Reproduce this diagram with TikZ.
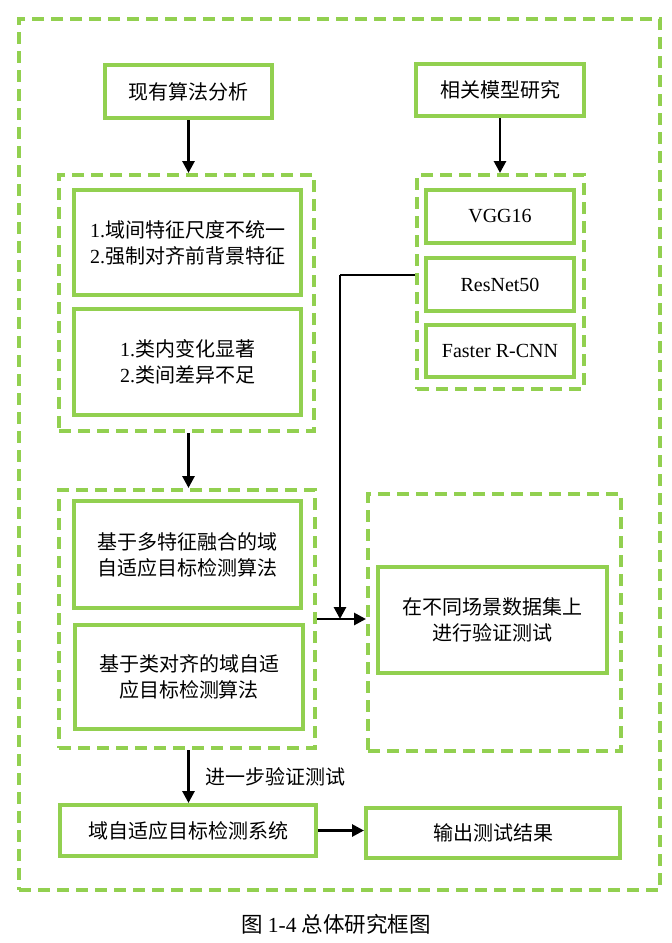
\documentclass[tikz,border=0pt]{standalone}
\usepackage{fontspec}
\setmainfont{Liberation Serif}
\newfontfamily\zhfont{Noto Sans CJK SC}
\newcommand{\zh}[1]{{\zhfont #1}}
\usetikzlibrary{arrows.meta}
\definecolor{leaf}{RGB}{146,208,80}
\begin{document}
\begin{tikzpicture}[x=1pt,y=-1pt,
  font=\fontsize{20}{26}\selectfont,
  solidbox/.style={draw=leaf,line width=4pt,fill=white,inner sep=0pt,align=center},
  dashbox/.style={draw=leaf,line width=4pt,dash pattern=on 12pt off 7pt,inner sep=0pt},
  flow/.style={draw=black,line width=2.8pt,-{Triangle[length=12pt,width=12pt]}},
  link/.style={draw=black,line width=2.8pt}]
\useasboundingbox (0,0) rectangle (672,943);

% outer frame
\node[dashbox,minimum width=641pt,minimum height=871pt] (frame) at (339.5,454.5) {};

% top row
\node[solidbox,minimum width=167pt,minimum height=53pt] (algo) at (188.5,91.5) {\zh{现有算法分析}};
\node[solidbox,minimum width=168pt,minimum height=52pt] (model) at (500,90) {\zh{相关模型研究}};

% problem group
\node[dashbox,minimum width=255pt,minimum height=256pt] (g1) at (186.5,303) {};
\node[solidbox,minimum width=227pt,minimum height=105pt] (a1) at (187.5,242.5)
  {1.\zh{域间特征尺度不统一}\\2.\zh{强制对齐前背景特征}};
\node[solidbox,minimum width=227pt,minimum height=106pt] (a2) at (187.5,362)
  {1.\zh{类内变化显著}\\2.\zh{类间差异不足}};

% backbone group
\node[dashbox,minimum width=167pt,minimum height=214pt] (g2) at (500.5,282) {};
\node[solidbox,minimum width=148pt,minimum height=53pt] (vgg) at (500,216.5) {VGG16};
\node[solidbox,minimum width=148pt,minimum height=53pt] (res) at (500,284.5) {ResNet50};
\node[solidbox,minimum width=148pt,minimum height=52pt] (fast) at (500,351) {Faster R-CNN};

% method group
\node[dashbox,minimum width=256pt,minimum height=258pt] (g3) at (187,619) {};
\node[solidbox,minimum width=227pt,minimum height=107pt] (b1) at (187.5,554.5)
  {\zh{基于多特征融合的域}\\\zh{自适应目标检测算法}};
\node[solidbox,minimum width=228pt,minimum height=104pt] (b2) at (189,677)
  {\zh{基于类对齐的域自适}\\\zh{应目标检测算法}};

% experiment group
\node[dashbox,minimum width=253pt,minimum height=257pt] (g4) at (494.5,622.5) {};
\node[solidbox,minimum width=229pt,minimum height=106pt] (test) at (492.5,620)
  {\zh{在不同场景数据集上}\\\zh{进行验证测试}};

% bottom row
\node[solidbox,minimum width=256pt,minimum height=51pt] (sys) at (188,830.5) {\zh{域自适应目标检测系统}};
\node[solidbox,minimum width=254pt,minimum height=50pt] (out) at (493,833) {\zh{输出测试结果}};

% connectors
\draw[flow] (algo.south) -- (algo.south |- g1.north);
\draw[flow] (model.south) -- (model.south |- g2.north);
\draw[flow] (g1.south -| algo.south) -- (g3.north -| algo.south);
\draw[flow] (g3.east) -- (g3.east -| g4.west);
\coordinate (bend) at (340,275);
\draw[link] (g2.west |- bend) -- (bend);
\draw[flow] (bend) -- (bend |- g3.east);
\draw[flow] (g3.south -| algo.south) -- (sys.north -| algo.south)
  node[midway,right=12pt,text=black] {\zh{进一步验证测试}};
\draw[flow] (sys.east) -- (sys.east -| out.west);

% caption
\node[font=\fontsize{21.5}{26}\selectfont] (cap) at (336,924) {\zh{图} 1-4 \zh{总体研究框图}};
\end{tikzpicture}
\end{document}
